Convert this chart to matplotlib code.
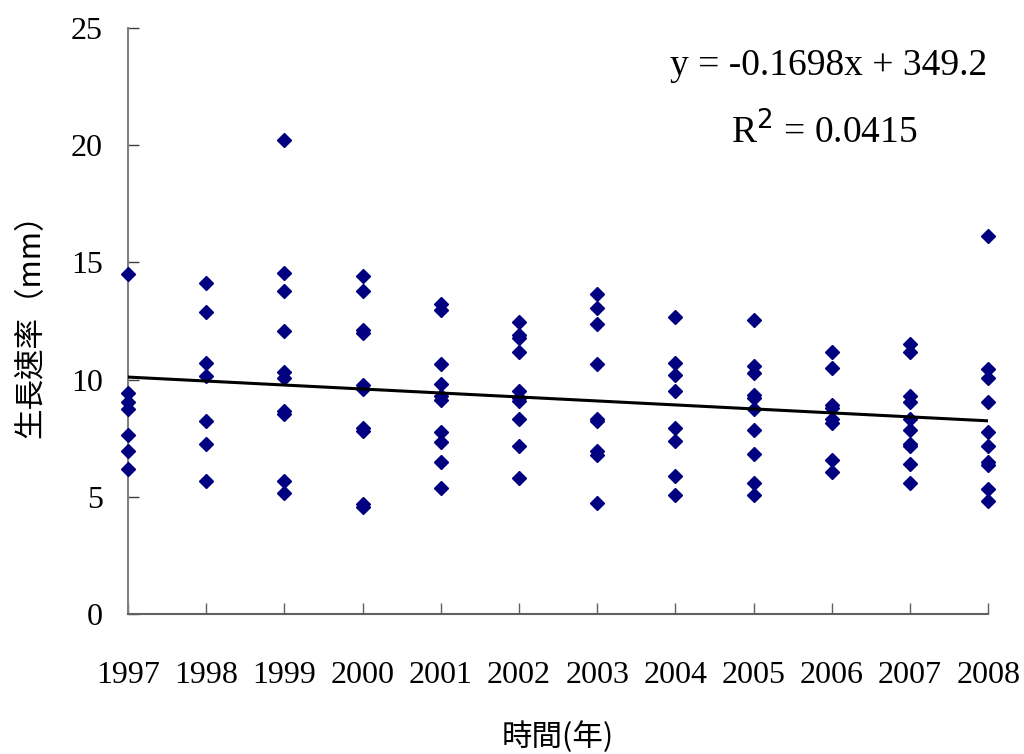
import matplotlib
matplotlib.use("Agg")
import matplotlib.pyplot as plt

# valeurs (mm)
annees = [1997, 1998, 1999, 2000, 2001, 2002, 2003, 2004, 2005, 2006, 2007, 2008]
vitesses = [
    [14.5, 9.45, 9.06, 8.76, 7.64, 6.95, 6.19],
    [14.11, 12.9, 10.72, 10.15, 8.22, 7.25, 5.67],
    [20.22, 14.56, 13.79, 12.07, 10.31, 10.05, 8.65, 8.55, 5.67, 5.15],
    [14.42, 13.79, 12.1, 12.0, 9.75, 9.62, 7.95, 7.8, 4.7, 4.56],
    [13.22, 12.97, 10.65, 9.81, 9.3, 9.15, 7.76, 7.34, 6.5, 5.36],
    [12.46, 11.9, 11.76, 11.18, 9.53, 9.2, 9.1, 8.31, 7.18, 5.82],
    [13.67, 13.04, 12.39, 10.65, 8.3, 8.22, 6.95, 6.8, 4.75],
    [12.67, 10.72, 10.18, 9.51, 7.94, 7.38, 5.89, 5.06],
    [12.53, 10.58, 10.3, 9.36, 9.22, 8.76, 7.85, 6.81, 5.6, 5.06],
    [11.16, 10.49, 8.9, 8.8, 8.3, 8.15, 6.57, 6.04],
    [11.51, 11.16, 9.31, 9.06, 8.31, 7.85, 7.25, 7.15, 6.41, 5.6],
    [16.14, 10.45, 10.08, 9.06, 7.78, 7.17, 6.5, 6.35, 5.32, 4.82],
]

# droite de tendance donnée sur la figure
pente = -0.1698
ordonnee = 349.2
r2 = 0.0415

xs = []
ys = []
for a, vals in zip(annees, vitesses):
    xs += [a] * len(vals)
    ys += vals

fig = plt.figure(figsize=(10.24, 7.54), dpi=100)
ax = fig.add_axes([0.125, 0.1857, 0.84, 0.777])

ax.plot(xs, ys, linestyle="none", marker="D", markersize=7.5,
        color="#000080", clip_on=False, zorder=3)

x_tend = [annees[0], annees[-1]]
y_tend = [pente * x + ordonnee for x in x_tend]
ax.plot(x_tend, y_tend, color="black", linewidth=2.2, zorder=4)

ax.set_xlim(1997, 2008)
ax.set_ylim(0, 25)
ax.set_xticks(annees)
ax.set_yticks([0, 5, 10, 15, 20, 25])

serif = ["Liberation Serif", "DejaVu Serif"]
for lab in ax.get_xticklabels() + ax.get_yticklabels():
    lab.set_family(serif)
    lab.set_fontsize(23)

ax.tick_params(axis="x", direction="in", length=8, width=1, color="#606060", pad=34)
ax.tick_params(axis="y", direction="in", length=8, width=1, color="#404040", pad=18)

for s in ["top", "right"]:
    ax.spines[s].set_visible(False)
ax.spines["left"].set_color("#808080")
ax.spines["bottom"].set_color("#606060")
ax.spines["left"].set_linewidth(1.5)
ax.spines["bottom"].set_linewidth(1.5)

cjk = ["Noto Sans CJK TC", "DejaVu Sans"]
ax.set_xlabel("時間(年)", family=cjk, fontsize=22, labelpad=22)
ax.set_ylabel("生長速率（mm）", family=cjk, fontsize=22)
ax.yaxis.set_label_coords(-0.095, 0.505)

ax.text(0.815, 0.935, f"y = {pente}x + {ordonnee}", transform=ax.transAxes,
        ha="center", va="center", family=serif, fontsize=27)
ax.text(0.81, 0.822, f"R$^2$ = {r2}", transform=ax.transAxes,
        ha="center", va="center", family=serif, fontsize=27)

fig.savefig("out.png", dpi=100)
plt.close()
